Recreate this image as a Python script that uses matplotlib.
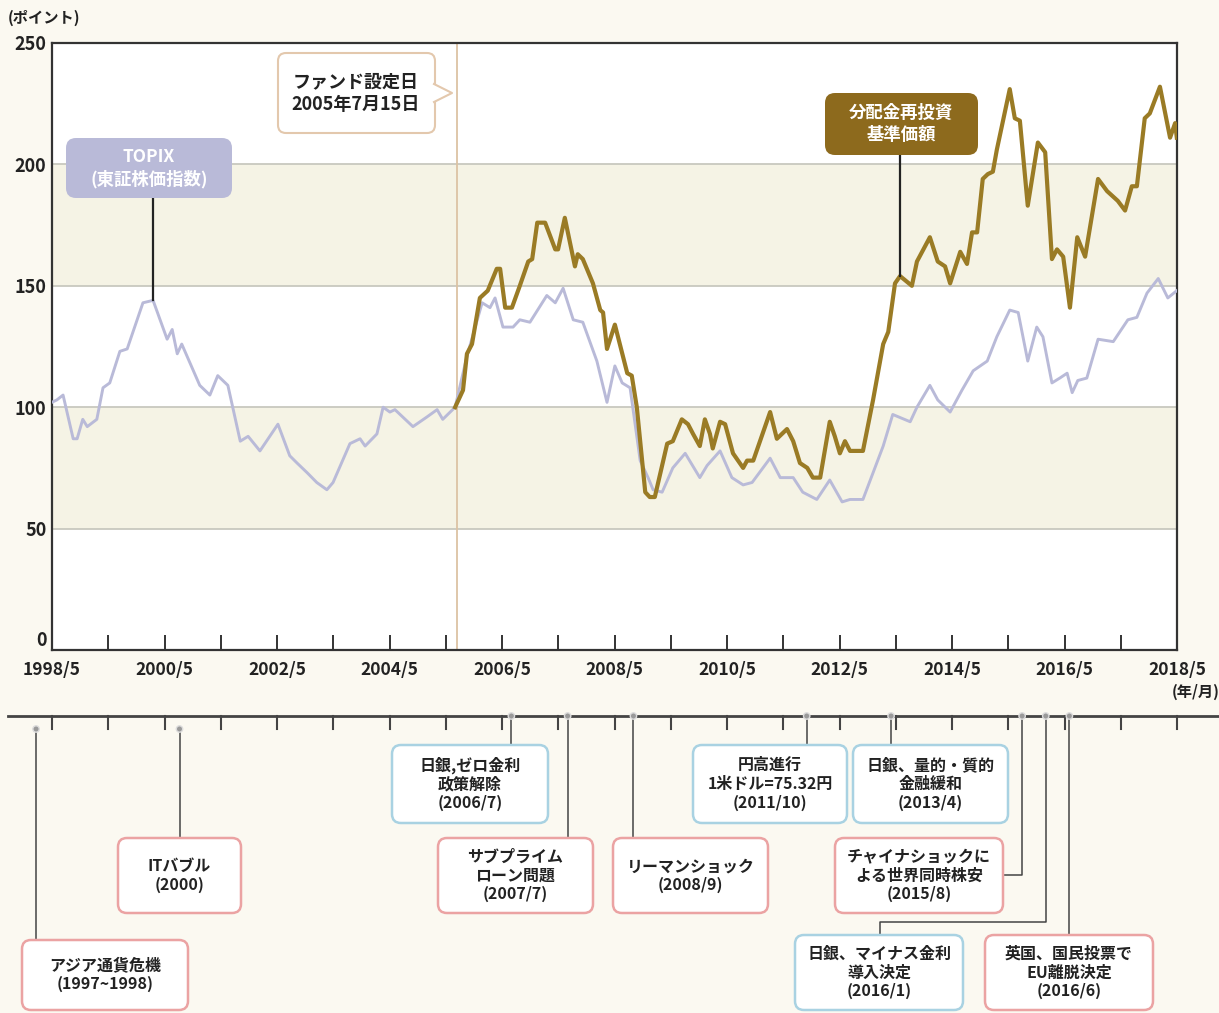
import matplotlib
matplotlib.use("Agg")
import matplotlib.pyplot as plt
from matplotlib.patches import FancyBboxPatch, Polygon, Circle

plt.rcParams['font.family'] = ['Noto Sans CJK JP', 'DejaVu Sans']

# --- data (decimal years, points) ---
topix_t = [1998.33, 1998.42, 1998.53, 1998.71, 1998.78, 1998.88, 1998.96, 1999.13, 1999.24, 1999.36,
           1999.54, 1999.67, 1999.95, 2000.13, 2000.38, 2000.47, 2000.56, 2000.64, 2000.96, 2001.14,
           2001.28, 2001.46, 2001.68, 2001.82, 2002.03, 2002.35, 2002.56, 2002.69, 2002.87, 2003.04,
           2003.22, 2003.33, 2003.63, 2003.81, 2003.90, 2004.11, 2004.22, 2004.34, 2004.43, 2004.75,
           2005.00, 2005.18, 2005.28, 2005.50, 2005.71, 2005.98, 2006.12, 2006.21, 2006.35, 2006.53,
           2006.65, 2006.83, 2007.13, 2007.28, 2007.42, 2007.60, 2007.77, 2008.02, 2008.20, 2008.34,
           2008.47, 2008.61, 2008.79, 2008.93, 2009.02, 2009.18, 2009.37, 2009.59, 2009.85, 2009.98,
           2010.21, 2010.42, 2010.62, 2010.78, 2011.10, 2011.28, 2011.51, 2011.68, 2011.93, 2012.16,
           2012.38, 2012.52, 2012.75, 2012.93, 2013.11, 2013.28, 2013.59, 2013.71, 2013.94, 2014.08,
           2014.30, 2014.51, 2014.71, 2014.96, 2015.13, 2015.36, 2015.51, 2015.68, 2015.84, 2015.95,
           2016.11, 2016.25, 2016.38, 2016.47, 2016.57, 2016.73, 2016.93, 2017.20, 2017.46, 2017.62,
           2017.80, 2018.00, 2018.17, 2018.33]
topix_v = [102, 103, 105, 87, 87, 95, 92, 95, 108, 110,
           123, 124, 143, 144, 128, 132, 122, 126, 109, 105,
           113, 109, 86, 88, 82, 93, 80, 77, 73, 69,
           66, 69, 85, 87, 84, 89, 100, 98, 99, 92,
           96, 99, 95, 100, 121, 143, 141, 145, 133, 133,
           136, 135, 146, 143, 149, 136, 135, 119, 102, 117,
           110, 108, 78, 71, 66, 65, 75, 81, 71, 76,
           82, 71, 68, 69, 79, 71, 71, 65, 62, 70,
           61, 62, 62, 73, 84, 97, 94, 100, 109, 103,
           98, 107, 115, 119, 129, 140, 139, 119, 133, 129,
           110, 112, 114, 106, 111, 112, 128, 127, 136, 137,
           147, 153, 145, 148]

fund_t = [2005.50, 2005.64, 2005.71, 2005.80, 2005.94, 2006.08, 2006.24, 2006.30, 2006.39, 2006.51,
          2006.65, 2006.80, 2006.87, 2006.96, 2007.10, 2007.28, 2007.33, 2007.45, 2007.63, 2007.68,
          2007.77, 2007.95, 2008.08, 2008.13, 2008.20, 2008.34, 2008.56, 2008.64, 2008.73, 2008.88,
          2008.96, 2009.05, 2009.27, 2009.37, 2009.53, 2009.64, 2009.73, 2009.85, 2009.94, 2010.03,
          2010.08, 2010.21, 2010.30, 2010.44, 2010.62, 2010.69, 2010.80, 2010.92, 2011.10, 2011.22,
          2011.40, 2011.51, 2011.63, 2011.76, 2011.86, 2011.99, 2012.16, 2012.25, 2012.34, 2012.43,
          2012.52, 2012.75, 2012.93, 2013.11, 2013.20, 2013.32, 2013.41, 2013.62, 2013.71, 2013.94,
          2014.08, 2014.21, 2014.30, 2014.48, 2014.60, 2014.69, 2014.78, 2014.88, 2014.97, 2015.06,
          2015.13, 2015.36, 2015.45, 2015.54, 2015.68, 2015.86, 2015.99, 2016.11, 2016.20, 2016.31,
          2016.43, 2016.56, 2016.70, 2016.93, 2017.09, 2017.28, 2017.41, 2017.53, 2017.62, 2017.76,
          2017.85, 2018.03, 2018.21, 2018.30, 2018.33]
fund_v = [100, 107, 122, 126, 145, 148, 157, 157, 141, 141,
          150, 160, 161, 176, 176, 165, 165, 178, 158, 163,
          161, 151, 140, 139, 124, 134, 114, 113, 100, 65,
          63, 63, 85, 86, 95, 93, 89, 84, 95, 89,
          83, 94, 93, 81, 75, 78, 78, 86, 98, 87,
          91, 86, 77, 75, 71, 71, 94, 88, 81, 86,
          82, 82, 103, 126, 131, 151, 154, 150, 160, 170,
          160, 158, 151, 164, 159, 172, 172, 194, 196, 197,
          206, 231, 219, 218, 183, 209, 205, 161, 165, 162,
          141, 170, 162, 194, 189, 185, 181, 191, 191, 219,
          221, 232, 211, 217, 211]

fund_start = 2005.54
x_start, x_end = 1998 + 4 / 12, 2018 + 4 / 12
xtick_labels = [f"{1998 + 2 * k}/5" for k in range(11)]
year_ticks = [x_start + k for k in range(21)]
yticks = [0, 50, 100, 150, 200, 250]

event_dates = [1998.05, 2000.6, 2006.5, 2007.5, 2008.67, 2011.75, 2013.25, 2015.58, 2016.0, 2016.42]
event_labels = ["アジア通貨危機\n(1997~1998)", "ITバブル\n(2000)", "日銀,ゼロ金利\n政策解除\n(2006/7)",
                "サブプライム\nローン問題\n(2007/7)", "リーマンショック\n(2008/9)",
                "円高進行\n1米ドル=75.32円\n(2011/10)", "日銀、量的・質的\n金融緩和\n(2013/4)",
                "チャイナショックに\nよる世界同時株安\n(2015/8)", "日銀、マイナス金利\n導入決定\n(2016/1)",
                "英国、国民投票で\nEU離脱決定\n(2016/6)"]
event_kind = ["r", "r", "b", "r", "r", "b", "b", "r", "b", "r"]

# --- layout (pixels) ---
W, H = 1219, 1013
BG = "#fbf9f1"
DARK = "#333333"
GOLD = "#9a7b25"
LAV = "#b9bad8"

fig = plt.figure(figsize=(W / 100, H / 100), dpi=100, facecolor=BG)
ax = fig.add_axes([52 / W, 1 - 650 / H, 1125 / W, 607 / H])
lay = fig.add_axes([0, 0, 1, 1], zorder=5)
lay.set_xlim(0, W)
lay.set_ylim(H, 0)
lay.axis("off")
lay.patch.set_alpha(0)

ax.set_facecolor("white")
ax.set_xlim(x_start, x_end)
ax.set_ylim(0, 250)
ax.axhspan(50, 100, color="#f5f3e5", zorder=0, lw=0)
ax.axhspan(150, 200, color="#f5f3e5", zorder=0, lw=0)
for yv in [50, 100, 150, 200]:
    ax.axhline(yv, color="#c8c8bf", lw=1.3, zorder=1)
ax.axvline(fund_start, color="#dcc3a4", lw=1.3, zorder=1)

ax.plot(topix_t, topix_v, color=LAV, lw=2.1, zorder=3, solid_joinstyle="round")
ax.plot(fund_t, fund_v, color=GOLD, lw=3.0, zorder=4, solid_joinstyle="round")

for s in ax.spines.values():
    s.set_color(DARK)
    s.set_linewidth(1.6)
ax.set_yticks(yticks)
ax.set_yticklabels([str(v) for v in yticks], fontsize=13, fontweight="bold", color="#222")
ax.tick_params(axis="y", length=0, pad=4)
ax.get_yticklabels()[0].set_verticalalignment("bottom")
ax.set_xticks(year_ticks)
ax.set_xticklabels([xtick_labels[i // 2] if i % 2 == 0 else "" for i in range(21)],
                   fontsize=12.5, fontweight="bold", color="#222")
ax.tick_params(axis="x", direction="in", length=11, width=1.4, color=DARK, pad=8)

lay.text(8, 18, "(ポイント)", fontsize=11, fontweight="bold", color="#222", va="center")
lay.text(1196, 692, "(年/月)", fontsize=11, fontweight="bold", color="#222", ha="center", va="center")


def to_lay(x, y):
    return lay.transData.inverted().transform(ax.transData.transform((x, y)))


def rbox(x0, y0, x1, y1, fc, ec, lw=1.5, r=8):
    p = FancyBboxPatch((x0 + r, y0 + r), x1 - x0 - 2 * r, y1 - y0 - 2 * r,
                       boxstyle=f"round,pad={r}", fc=fc, ec=ec, lw=lw, zorder=6)
    lay.add_patch(p)


# series labels
px, py = to_lay(2000.13, 144)
lay.plot([px, px], [198, py], color="#222", lw=1.6, zorder=5)
rbox(66, 138, 232, 198, LAV, "none", r=10)
lay.text(149, 168, "TOPIX\n(東証株価指数)", fontsize=12.5, fontweight="bold", color="white",
         ha="center", va="center", linespacing=1.25, zorder=7)

gx, gy = to_lay(2013.41, 154)
lay.plot([gx, gx], [155, gy], color="#222", lw=1.6, zorder=5)
rbox(825, 93, 978, 155, "#8d6a1d", "none", r=10)
lay.text(901, 124, "分配金再投資\n基準価額", fontsize=12.5, fontweight="bold", color="white",
         ha="center", va="center", linespacing=1.3, zorder=7)

# fund start callout
rbox(278, 53, 435, 133, "white", "#e3c8ad", lw=1.5)
lay.add_patch(Polygon([(433, 84), (452, 93), (433, 102)], closed=True, fc="white", ec="none", zorder=7))
lay.plot([434, 452, 434], [84, 93, 102], color="#e3c8ad", lw=1.5, zorder=7)
lay.text(356, 93, "ファンド設定日\n2005年7月15日", fontsize=13, fontweight="bold", color="#222",
         ha="center", va="center", linespacing=1.3, zorder=8)

# timeline
lay.plot([8, W], [716, 716], color="#444", lw=2, zorder=5)
for t in year_ticks:
    tx, _ = to_lay(t, 0)
    lay.plot([tx, tx], [716, 729], color="#444", lw=1.5, zorder=5)

edge = {"r": "#eba3a3", "b": "#a9d2e2"}
# box rectangle (x0, y0, x1, y1) for each event
boxes = [(22, 940, 188, 1010), (118, 838, 241, 913), (392, 745, 548, 823), (438, 838, 593, 913),
         (613, 838, 768, 913), (693, 745, 847, 823), (853, 745, 1008, 823), (835, 838, 1003, 913),
         (795, 935, 963, 1010), (985, 935, 1153, 1010)]
marker_y = [729, 729, 716, 716, 716, 716, 716, 716, 716, 716]

for i, d in enumerate(event_dates):
    ex, _ = to_lay(d, 0)
    x0, y0, x1, y1 = boxes[i]
    if i == 7:
        path_x, path_y = [ex, ex, x1], [marker_y[i], 875, 875]
    elif i == 8:
        path_x, path_y = [ex, ex, 880, 880], [marker_y[i], 922, 922, y0]
    else:
        path_x, path_y = [ex, ex], [marker_y[i], y0]
    lay.plot(path_x, path_y, color="#444", lw=1.1, zorder=5)
    lay.add_patch(Circle((ex, marker_y[i]), 3.2, fc="#9a9a9a", ec="#dddddd", lw=1, zorder=6))
    rbox(x0, y0, x1, y1, "white", edge[event_kind[i]], lw=1.8, r=9)
    lay.text((x0 + x1) / 2, (y0 + y1) / 2, event_labels[i], fontsize=11.5, fontweight="bold",
             color="#222", ha="center", va="center", linespacing=1.2, zorder=7)

fig.savefig("out.png", dpi=100, facecolor=BG)
